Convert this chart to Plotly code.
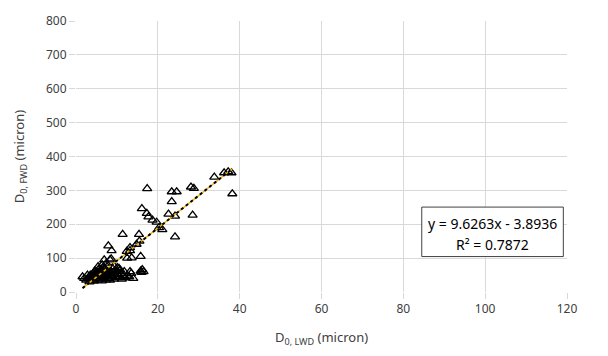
import plotly.graph_objects as go

# Scatter data: D0,LWD (x) vs D0,FWD (y), microns
x_lwd = [1.6, 2.0, 2.5, 2.8, 3.0, 3.2, 3.3, 3.5, 3.6, 3.8, 4.0, 4.1, 4.2, 4.3, 4.5, 4.6, 4.8,
         5.0, 5.1, 5.2, 5.3, 5.4, 5.5, 5.6, 5.8, 6.0, 6.1, 6.2, 6.3, 6.4, 6.5, 6.6, 6.8, 7.0,
         7.1, 7.2, 7.3, 7.4, 7.5, 7.6, 7.8, 8.0, 8.2, 8.3, 8.5, 8.6, 8.8, 9.0, 9.2, 9.3, 9.4,
         9.5, 9.6, 9.8, 10.0, 10.3, 10.5, 10.6, 10.8, 11.0, 11.2, 11.5, 12.0, 12.5, 13.0, 13.5,
         14.0, 6.9, 8.3, 7.9, 8.7, 8.6, 12.4, 13.2, 13.6, 12.5, 13.2, 11.4, 15.4, 15.5, 14.8,
         15.8, 16.2, 16.5, 16.0, 15.8, 13.2, 16.1, 17.3, 17.7, 18.7, 19.7, 20.3, 21.1, 17.4,
         22.6, 24.2, 23.4, 23.4, 24.6, 24.2, 28.5, 28.1, 28.8, 33.8, 36.2, 37.2, 38.0, 38.2,
         5.7, 6.7, 7.7, 4.9, 3.9, 10.1, 11.8, 9.9]
y_fwd = [45, 40, 35, 50, 38, 45, 30, 50, 40, 42, 35, 46, 55, 32, 48, 62, 40,
         60, 44, 52, 35, 75, 45, 68, 38, 65, 58, 55, 33, 80, 48, 72, 42, 70,
         50, 60, 36, 85, 52, 75, 45, 40, 62, 35, 55, 46, 48, 68, 58, 38, 75,
         50, 64, 42, 60, 52, 70, 45, 65, 55, 38, 48, 42, 50, 45, 55,
         40, 95, 95, 136, 122, 98, 120, 122, 101, 100, 131, 170, 170, 150, 141,
         105, 66, 60, 58, 62, 60, 246, 232, 222, 212, 206, 190, 184, 305,
         230, 224, 267, 296, 296, 163, 227, 310, 306, 339, 352, 355, 352, 290,
         55, 62, 58, 52, 48, 72, 60, 44]

# Trendline (as reported on chart)
slope = 9.6263
intercept = -3.8936
eq_text = "y = 9.6263x - 3.8936"
r2_text = "R² = 0.7872"

x_ticks = [0, 20, 40, 60, 80, 100, 120]
y_ticks = [0, 100, 200, 300, 400, 500, 600, 700, 800]

xmin, xmax = min(x_lwd), max(x_lwd)
tx = [xmin, xmax]
ty = [slope * v + intercept for v in tx]

fig = go.Figure()
fig.add_trace(go.Scatter(x=x_lwd, y=y_fwd, mode="markers",
                         marker=dict(symbol="triangle-up-open", size=8,
                                     color="black", line=dict(width=1.3, color="black")),
                         showlegend=False))
fig.add_trace(go.Scatter(x=tx, y=ty, mode="lines",
                         line=dict(color="#f0b400", width=1.5), showlegend=False))
fig.add_trace(go.Scatter(x=tx, y=ty, mode="lines",
                         line=dict(color="black", width=2, dash="dot"), showlegend=False))

font_family = "Noto Sans"
grid = "#d9d9d9"
fig.update_layout(
    width=608, height=356,
    margin=dict(l=76, r=41, t=13, b=64),
    paper_bgcolor="white", plot_bgcolor="white",
    font=dict(family=font_family, size=12, color="#404040"),
    xaxis=dict(range=[0, 120], tickvals=x_ticks, showgrid=True, gridcolor=grid, gridwidth=1,
               zeroline=False, showline=False, ticks="outside", ticklen=6, tickcolor=grid,
               title=dict(text="D<sub>0, LWD</sub> (micron)", font=dict(size=13), standoff=16),
               tickfont=dict(size=12)),
    yaxis=dict(range=[0, 800], tickvals=y_ticks, showgrid=True, gridcolor=grid, gridwidth=1,
               zeroline=False, showline=False, ticks="outside", ticklen=6, tickcolor=grid,
               title=dict(text="D<sub>0, FWD</sub> (micron)", font=dict(size=13), standoff=18),
               tickfont=dict(size=12)),
)

# Trendline label box
fig.add_shape(type="rect", xref="x", yref="y", x0=84.5, x1=119.1, y0=104.6, y1=250.7,
              line=dict(color="#404040", width=1), fillcolor="white", layer="above")
fig.add_annotation(x=101.8, y=202, xref="x", yref="y", text=eq_text, showarrow=False,
                   font=dict(size=14, color="black", family=font_family))
fig.add_annotation(x=101.8, y=141, xref="x", yref="y", text=r2_text, showarrow=False,
                   font=dict(size=14, color="black", family=font_family))

fig.write_html("out.html")
